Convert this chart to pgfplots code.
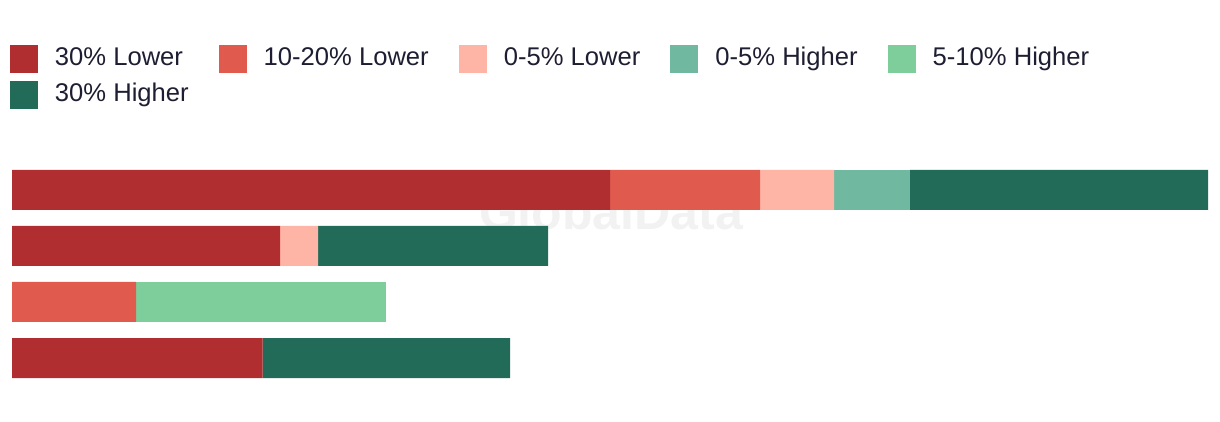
\documentclass[border=0pt]{standalone}
\usepackage{fontspec}
\setmainfont{Liberation Sans}
\usepackage{pgfplots}
\pgfplotsset{compat=1.18}
\definecolor{lowA}{HTML}{B02E2F}
\definecolor{lowB}{HTML}{E05A4E}
\definecolor{lowC}{HTML}{FFB5A6}
\definecolor{highA}{HTML}{70B9A0}
\definecolor{highB}{HTML}{7ECE9C}
\definecolor{highC}{HTML}{226B58}
\definecolor{ink}{HTML}{1E1E32}
% one row per bar, top bar at y=0; widths in tenths of a pixel of the reference
\pgfplotstableread{
y   lowA  lowB  lowC  highA highB highC
0   59.8  15.0  7.4   7.6   0     29.8
-1  26.8  0     3.8   0     0     23.0
-2  0     12.4  0     0     25.0  0
-3  25.05 0     0     0     0     24.75
}\shares
\begin{document}
\begin{tikzpicture}
\useasboundingbox (0,0) rectangle (610pt,211pt);
\begin{axis}[
  at={(6pt,22pt)}, anchor=south west,
  scale only axis, width=598pt, height=104pt,
  xbar stacked, bar width=20pt,
  xmin=0, xmax=119.6, ymin=-3.357, ymax=0.357,
  hide axis, clip=false,
  every axis plot/.append style={draw=none},
  legend columns=5,
  legend image code/.code={\fill (0pt,-7pt) rectangle (14pt,7pt);},
  legend style={at={(axis description cs:-0.0017,1.600)}, anchor=north west,
    draw=none, fill=none, inner sep=0pt, outer sep=0pt,
    font=\fontsize{12.8}{15}\selectfont, text=ink,
    nodes={inner sep=0pt, text height=9pt, text depth=2.5pt},
    row sep=4pt,
    /tikz/every odd column/.append style={column sep=8.5pt},
    /tikz/every even column/.append style={column sep=15pt}},
  legend cell align=left,
]
\addplot[fill=lowA] table[x=lowA,y=y]{\shares};
\addplot[fill=lowB] table[x=lowB,y=y]{\shares};
\addplot[fill=lowC] table[x=lowC,y=y]{\shares};
\addplot[fill=highA] table[x=highA,y=y]{\shares};
\addplot[fill=highB] table[x=highB,y=y]{\shares};
\addplot[fill=highC] table[x=highC,y=y]{\shares};
\legend{30\% Lower, 10-20\% Lower, 0-5\% Lower, 0-5\% Higher, 5-10\% Higher, 30\% Higher}
\node[text=black!10, opacity=0.5, font=\fontsize{25}{30}\selectfont\bfseries]
  at (axis cs:59.9,-0.39) {GlobalData};
\end{axis}
\end{tikzpicture}
\end{document}
